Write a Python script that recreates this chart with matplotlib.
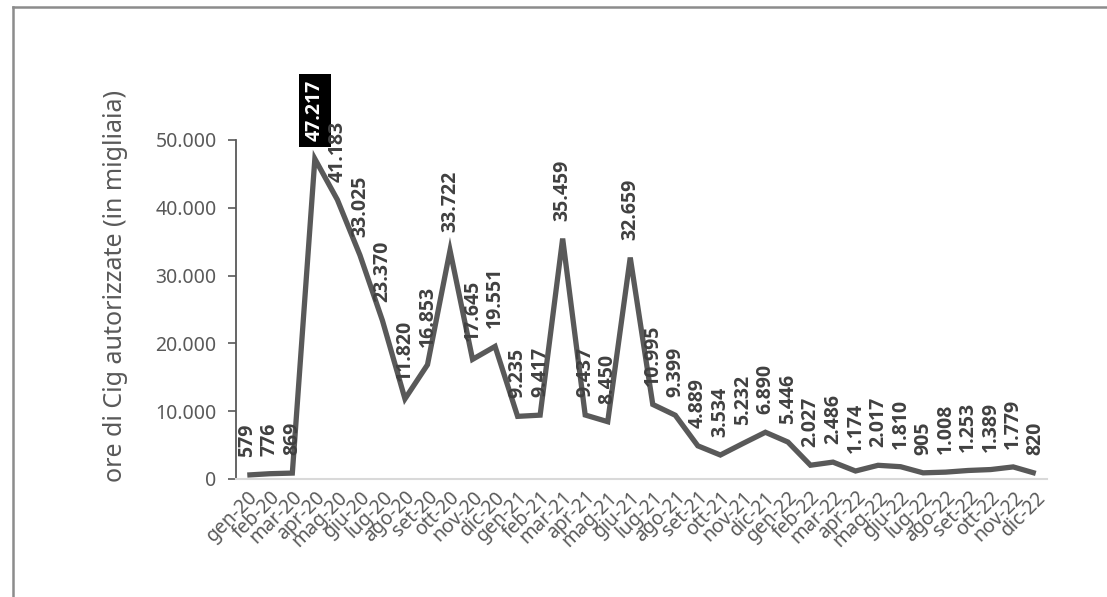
import matplotlib.pyplot as plt
from matplotlib.ticker import FuncFormatter
from matplotlib.lines import Line2D

mesi = ['gen', 'feb', 'mar', 'apr', 'mag', 'giu', 'lug', 'ago', 'set', 'ott', 'nov', 'dic']
anni = ['20', '21', '22']
categorie = [m + '-' + a for a in anni for m in mesi]

ore_cig = [579, 776, 869, 47217, 41183, 33025, 23370, 11820, 16853, 33722, 17645, 19551,
           9235, 9417, 35459, 9437, 8450, 32659, 10995, 9399, 4889, 3534, 5232, 6890,
           5446, 2027, 2486, 1174, 2017, 1810, 905, 1008, 1253, 1389, 1779, 820]

y_ticks = [0, 10000, 20000, 30000, 40000, 50000]

def fmt_it(v):
    return '{:,.0f}'.format(v).replace(',', '.')

plt.rcParams['font.family'] = ['Noto Sans', 'DejaVu Sans']
grey = '#595959'

fig = plt.figure(figsize=(11.07, 5.97), dpi=100)
ax = fig.add_axes([0.2132, 0.1977, 0.7326, 0.5678])

x = list(range(len(categorie)))
ax.plot(x, ore_cig, color=grey, linewidth=3.8, solid_joinstyle='miter', solid_capstyle='butt')

imax = ore_cig.index(max(ore_cig))
for i, v in enumerate(ore_cig):
    if i == imax:
        ax.annotate(fmt_it(v), (i, v), xytext=(0, 13), textcoords='offset points',
                    rotation=90, ha='center', va='bottom', fontsize=14, fontweight='bold',
                    family=['Open Sans', 'DejaVu Sans'], color='white',
                    bbox=dict(boxstyle='square,pad=0.3', fc='black', ec='none'))
    else:
        ax.annotate(fmt_it(v), (i, v), xytext=(0, 13), textcoords='offset points',
                    rotation=90, ha='center', va='bottom', fontsize=14, fontweight='bold',
                    family=['Open Sans', 'DejaVu Sans'], color='#404040')

ax.set_xlim(-0.5, len(categorie) - 0.5)
ax.set_ylim(0, 50000)
ax.set_yticks(y_ticks)
ax.yaxis.set_major_formatter(FuncFormatter(lambda v, p: fmt_it(v)))
ax.set_xticks(x)
ax.set_xticklabels(categorie, rotation=45, ha='right', rotation_mode='anchor', fontsize=14, color=grey)
ax.tick_params(axis='x', length=0, pad=6)
ax.tick_params(axis='y', length=6, width=1.2, color=grey, labelcolor=grey, labelsize=14, pad=8)

for s in ['top', 'right']:
    ax.spines[s].set_visible(False)
ax.spines['left'].set_color(grey)
ax.spines['left'].set_linewidth(1.3)
ax.spines['bottom'].set_color('#d9d9d9')
ax.spines['bottom'].set_linewidth(1.5)

ax.set_ylabel('ore di Cig autorizzate (in migliaia)', fontsize=18, color=grey)
ax.yaxis.set_label_coords(-0.133, 0.57)

# bordo del grafico (lato sinistro e superiore)
fig.add_artist(Line2D([13 / 1107, 13 / 1107], [0, 1 - 7 / 597], color='#8c8c8c', linewidth=1.8))
fig.add_artist(Line2D([13 / 1107, 1], [1 - 7 / 597, 1 - 7 / 597], color='#8c8c8c', linewidth=1.8))

fig.savefig('out.png', dpi=100)
